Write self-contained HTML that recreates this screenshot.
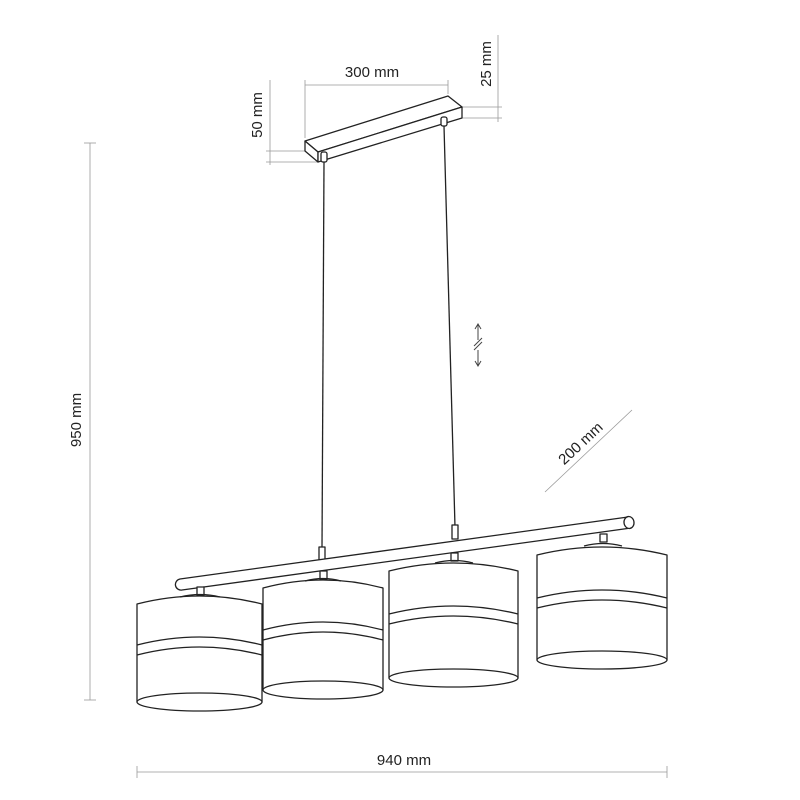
<!DOCTYPE html>
<html><head><style>html,body{margin:0;padding:0;background:#fff}svg{display:block}</style></head>
<body>
<svg width="800" height="800" viewBox="0 0 800 800" xmlns="http://www.w3.org/2000/svg" font-family="Liberation Sans, sans-serif">
<g stroke="#999" stroke-width="0.8" fill="none">
  <line x1="90" y1="143" x2="90" y2="700"/>
  <line x1="84" y1="143" x2="96" y2="143"/><line x1="84" y1="700" x2="96" y2="700"/>
  <line x1="137" y1="772" x2="667" y2="772"/>
  <line x1="137" y1="766" x2="137" y2="778"/><line x1="667" y1="766" x2="667" y2="778"/>
  <line x1="305" y1="85" x2="448" y2="85"/>
  <line x1="305" y1="80" x2="305" y2="138"/><line x1="448" y1="80" x2="448" y2="94"/>
  <line x1="270" y1="80" x2="270" y2="165"/>
  <line x1="266" y1="151" x2="305" y2="151"/><line x1="266" y1="162" x2="318" y2="162"/>
  <line x1="498" y1="35" x2="498" y2="122"/>
  <line x1="462" y1="107" x2="502" y2="107"/><line x1="462" y1="118" x2="502" y2="118"/>
  <line x1="545" y1="492" x2="632" y2="410"/>
</g>
<g fill="#222" font-size="15">
  <text x="372" y="77" text-anchor="middle">300 mm</text>
  <text x="404" y="765" text-anchor="middle">940 mm</text>
  <text transform="translate(81,420) rotate(-90)" text-anchor="middle">950 mm</text>
  <text transform="translate(262,115) rotate(-90)" text-anchor="middle">50 mm</text>
  <text transform="translate(491,64) rotate(-90)" text-anchor="middle">25 mm</text>
  <text transform="translate(584,447) rotate(-43)" text-anchor="middle">200 mm</text>
</g>
<g stroke="#444" stroke-width="1" fill="none">
  <line x1="478" y1="325" x2="478" y2="340"/><path d="M475,329 L478,324 L481,329"/>
  <line x1="478" y1="350" x2="478" y2="366"/><path d="M475,361 L478,366 L481,361"/>
  <line x1="474" y1="346" x2="482" y2="338"/><line x1="474" y1="350" x2="482" y2="342"/>
</g>
<g stroke="#222" stroke-width="1.3" fill="#fff" stroke-linejoin="round">
  <polygon points="305,141 448,96 462,107 318,152"/>
  <polygon points="305,141 318,152 318,162 305,151"/>
  <polygon points="318,152 462,107 462,118 318,162"/>
  <rect x="321" y="152" width="6" height="10" rx="2"/>
  <rect x="441" y="117" width="6" height="9" rx="2"/>
  <line x1="324" y1="162" x2="322" y2="548"/>
  <line x1="444" y1="126" x2="455" y2="527"/>
  <rect x="319" y="547" width="6" height="14"/>
  <rect x="452" y="525" width="6" height="14"/>
  <path d="M180,579 L628,517 L631,528 L182,590 A5.5,5.5 0 0 1 180,579 Z"/>
  <ellipse cx="629" cy="522.5" rx="5" ry="6" transform="rotate(-8 629 522.5)"/>
  <rect x="197" y="587" width="7" height="8"/>
  <rect x="320" y="571" width="7" height="8"/>
  <rect x="451" y="553" width="7" height="8"/>
  <rect x="600" y="534" width="7" height="8"/>

  <!-- shade 1 -->
  <path d="M137,604 Q199.5,588 262,604 L262,702 L137,702 Z"/>
  <ellipse cx="199.5" cy="702" rx="62.5" ry="9"/>
  <path d="M137,645 Q199.5,629 262,645 M137,655 Q199.5,639 262,655" fill="none"/>
  <path d="M180,597 Q200,592 220,597" fill="none"/>
  <!-- shade 2 -->
  <path d="M263,588 Q323,572 383,588 L383,690 L263,690 Z"/>
  <ellipse cx="323" cy="690" rx="60" ry="9"/>
  <path d="M263,630 Q323,614 383,630 M263,640 Q323,624 383,640" fill="none"/>
  <path d="M305,581 Q323,576 341,581" fill="none"/>
  <!-- shade 3 -->
  <path d="M389,571 Q453.5,555 518,571 L518,678 L389,678 Z"/>
  <ellipse cx="453.5" cy="678" rx="64.5" ry="9"/>
  <path d="M389,614 Q453.5,598 518,614 M389,624 Q453.5,608 518,624" fill="none"/>
  <path d="M435,563 Q454,558 473,563" fill="none"/>
  <!-- shade 4 -->
  <path d="M537,555 Q602,539 667,555 L667,660 L537,660 Z"/>
  <ellipse cx="602" cy="660" rx="65" ry="9"/>
  <path d="M537,598 Q602,582 667,598 M537,608 Q602,592 667,608" fill="none"/>
  <path d="M584,546 Q603,541 622,546" fill="none"/>
</g>
</svg>
</body></html>
